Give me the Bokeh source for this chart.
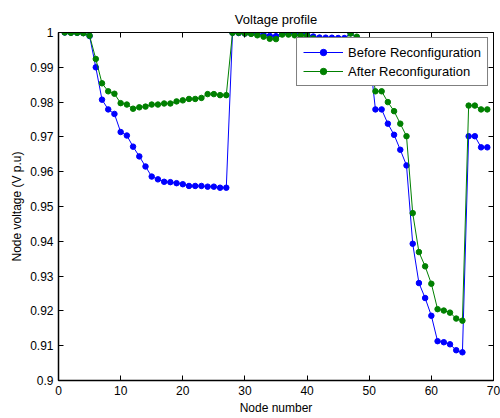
from bokeh.plotting import figure
from bokeh.models import LinearAxis, FixedTicker, Range1d
from bokeh.embed import file_html
from bokeh.resources import INLINE

nodes = list(range(1, 70))

v_before = [1.0, 0.99997, 0.99993, 0.99984, 0.9990, 0.9900, 0.9807, 0.9779, 0.9766, 0.9714,
            0.9704, 0.9672, 0.9644, 0.9615, 0.9586, 0.9578, 0.9571, 0.9570, 0.9567, 0.9564,
            0.9559, 0.9559, 0.9559, 0.9557, 0.9557, 0.9554, 0.9554, 0.99993, 0.99985, 0.99973,
            0.99971, 0.99961, 0.99935, 0.99901, 0.99895, 0.99992, 0.99975, 0.99959, 0.99954, 0.99954,
            0.99884, 0.99855, 0.99851, 0.99850, 0.99841, 0.99840, 0.99979, 0.99854, 0.9947, 0.9942,
            0.9779, 0.9779, 0.9738, 0.9706, 0.9663, 0.9618, 0.9393, 0.9280, 0.9237, 0.9186,
            0.9113, 0.9110, 0.9104, 0.9087, 0.9081, 0.9702, 0.9702, 0.9670, 0.9670]

v_after = [1.0, 0.9999, 0.9999, 0.9998, 0.9991, 0.9924, 0.9854, 0.9831, 0.9824, 0.9797,
           0.9793, 0.9781, 0.9785, 0.9787, 0.9793, 0.9793, 0.9796, 0.9796, 0.9802, 0.9805,
           0.9809, 0.9809, 0.9812, 0.9823, 0.9823, 0.9820, 0.9820, 0.9999, 0.9999, 0.9997,
           0.9996, 0.9992, 0.9988, 0.9982, 0.9981, 0.9994, 0.9994, 0.9992, 0.9992, 0.9991,
           0.9983, 0.9979, 0.9978, 0.9978, 0.9977, 0.9977, 0.9997, 0.9988, 0.9950, 0.9944,
           0.9831, 0.9831, 0.9800, 0.9774, 0.9738, 0.9702, 0.9481, 0.9369, 0.9328, 0.9278,
           0.9205, 0.9201, 0.9195, 0.9178, 0.9172, 0.9790, 0.9790, 0.9779, 0.9779]

x_ticks = [0, 10, 20, 30, 40, 50, 60, 70]
y_ticks = [0.9, 0.91, 0.92, 0.93, 0.94, 0.95, 0.96, 0.97, 0.98, 0.99, 1.0]
y_tick_labels = ["0.9", "0.91", "0.92", "0.93", "0.94", "0.95", "0.96", "0.97", "0.98", "0.99", "1"]

FONT = "Liberation Sans"

p = figure(width=500, height=418, output_backend="svg", toolbar_location=None,
           x_range=Range1d(0, 70), y_range=Range1d(0.9, 1.0),
           min_border_left=58, min_border_right=7, min_border_top=32, min_border_bottom=38,
           title="Voltage profile")
p.title.align = "center"
p.title.text_font = FONT
p.title.text_font_size = "13px"
p.title.text_font_style = "normal"
p.title.text_color = "black"
p.title.standoff = 11

p.xgrid.visible = False
p.ygrid.visible = False
p.outline_line_color = "black"
p.outline_line_width = 1

for ax in (p.xaxis[0], p.yaxis[0]):
    ax.major_label_text_font = FONT
    ax.major_label_text_font_size = "12px"
    ax.major_label_text_color = "black"
    ax.axis_label_text_font = FONT
    ax.axis_label_text_font_size = "12px"
    ax.axis_label_text_font_style = "normal"
    ax.axis_label_text_color = "black"
    ax.major_tick_in = 5
    ax.major_tick_out = 0
    ax.minor_tick_line_color = None
    ax.axis_line_width = 1.5
    ax.axis_line_color = "black"
    ax.major_tick_line_color = "black"
    ax.major_label_standoff = 5
    ax.axis_label_standoff = 3

p.xaxis[0].ticker = FixedTicker(ticks=x_ticks)
p.yaxis[0].ticker = FixedTicker(ticks=y_ticks)
p.yaxis[0].major_label_overrides = dict(zip(y_ticks, y_tick_labels))
p.xaxis[0].axis_label = "Node number"
p.yaxis[0].axis_label = "Node voltage (V p.u)"

top = LinearAxis(ticker=FixedTicker(ticks=x_ticks), major_label_text_font_size="1px",
                 major_label_text_color=None,
                 major_tick_in=5, major_tick_out=0, major_label_standoff=0,
                 minor_tick_line_color=None, axis_line_color="black",
                 major_tick_line_color="black")
right = LinearAxis(ticker=FixedTicker(ticks=y_ticks), major_label_text_font_size="1px",
                   major_label_text_color=None,
                   major_tick_in=5, major_tick_out=0, major_label_standoff=0,
                   minor_tick_line_color=None, axis_line_color="black",
                   major_tick_line_color="black")
p.add_layout(top, "above")
p.add_layout(right, "right")

BLUE = "#0000FF"
GREEN = "#008000"

p.line(nodes, v_before, line_color=BLUE, line_width=1, legend_label="Before Reconfiguration")
p.scatter(nodes, v_before, size=5.5, fill_color=BLUE, line_color=BLUE, legend_label="Before Reconfiguration")
p.line(nodes, v_after, line_color=GREEN, line_width=1, legend_label="After Reconfiguration")
p.scatter(nodes, v_after, size=5.5, fill_color=GREEN, line_color=GREEN, legend_label="After Reconfiguration")

lg = p.legend[0]
lg.location = "top_right"
lg.margin = 5
lg.padding = 6
lg.spacing = 3
lg.glyph_width = 40
lg.glyph_height = 16
lg.label_height = 16
lg.label_standoff = 5
lg.label_text_font = FONT
lg.label_text_font_size = "13px"
lg.label_text_color = "black"
lg.border_line_color = "black"
lg.border_line_width = 1
lg.background_fill_alpha = 1.0

open("out.html", "w").write(file_html(p, INLINE))
